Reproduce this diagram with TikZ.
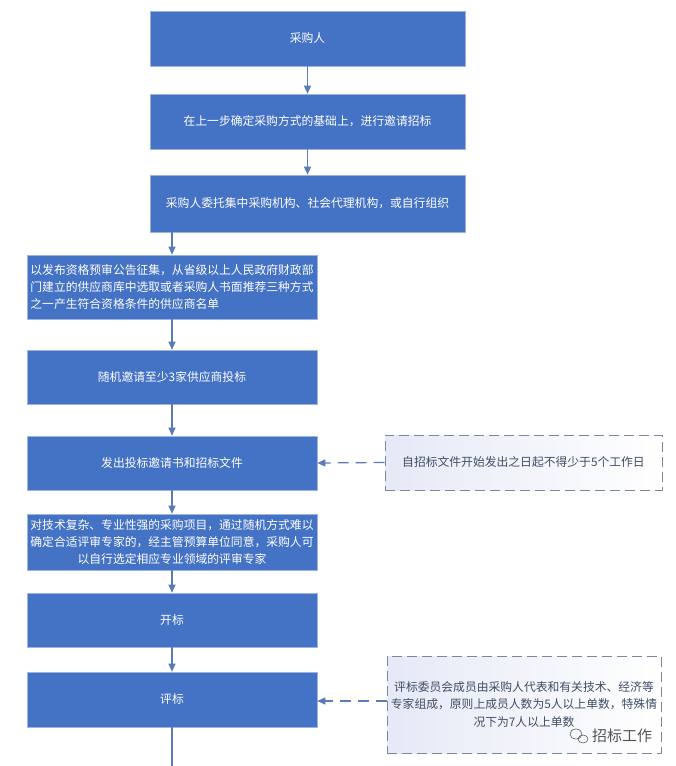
\documentclass[tikz,border=0pt]{standalone}
\usepackage{fontspec}
\newfontfamily\cjk{Noto Sans CJK SC}
\usetikzlibrary{arrows.meta}
\definecolor{boxblue}{HTML}{4472C4}
\definecolor{boxedge}{HTML}{9DB4E0}
\definecolor{arrowc}{HTML}{5B7BB8}
\definecolor{noteedge}{HTML}{7A889E}
\definecolor{notetext}{HTML}{3F4D66}
\definecolor{notefill}{HTML}{E6E9F6}
\definecolor{wmark}{HTML}{555555}
\begin{document}
\begin{tikzpicture}[x=1pt,y=-1pt,
  box/.style={draw=boxedge, fill=boxblue, text=white, line width=0.6pt, inner sep=0pt,
    font=\cjk\fontsize{11.8}{17.3}\selectfont},
  note/.style={draw=noteedge, dash pattern=on 10pt off 5pt, line width=1pt,
    left color=notefill, right color=white, text=notetext, inner sep=0pt, align=center,
    font=\cjk\fontsize{11.8}{17.5}\selectfont},
  flow/.style={draw=arrowc, line width=1.2pt, -{Triangle[length=8pt,width=7pt]}},
  dflow/.style={draw=arrowc, line width=1.2pt, dash pattern=on 11pt off 7pt, -{Triangle[length=8pt,width=7pt]}},
  plain/.style={draw=arrowc, line width=1.2pt}
]
\useasboundingbox (0,0) rectangle (675,766);
\fill[white] (0,0) rectangle (675,766);

\node[box, minimum width=315pt, minimum height=55pt] (b1) at (307.5,38.5) {采购人};
\node[box, minimum width=315pt, minimum height=55pt] (b2) at (307.5,121.5) {在上一步确定采购方式的基础上，进行邀请招标};
\node[box, minimum width=315pt, minimum height=57pt] (b3) at (307.5,203.5) {采购人委托集中采购机构、社会代理机构，或自行组织};
\node[box, minimum width=290pt, minimum height=64pt, align=left] (b4) at (172,287)
  {以发布资格预审公告征集，从省级以上人民政府财政部\\门建立的供应商库中选取或者采购人书面推荐三种方式\\之一产生符合资格条件的供应商名单};
\node[box, minimum width=290pt, minimum height=54pt] (b5) at (172,377) {随机邀请至少3家供应商投标};
\node[box, minimum width=290pt, minimum height=54pt] (b6) at (172,463) {发出投标邀请书和招标文件};
\node[box, minimum width=290pt, minimum height=56pt, align=center] (b7) at (172,542)
  {对技术复杂、专业性强的采购项目，通过随机方式难以\\确定合适评审专家的，经主管预算单位同意，采购人可\\以自行选定相应专业领域的评审专家};
\node[box, minimum width=290pt, minimum height=54pt] (b8) at (172,620) {开标};
\node[box, minimum width=290pt, minimum height=55pt] (b9) at (172,699.5) {评标};

\node[note, minimum width=277pt, minimum height=55pt] (d1) at (523.5,462.5) {自招标文件开始发出之日起不得少于5个工作日};
\node[note, minimum width=274pt, minimum height=97pt] (d2) at (524,704.5)
  {评标委员会成员由采购人代表和有关技术、经济等\\专家组成，原则上成员人数为5人以上单数，特殊情\\况下为7人以上单数};

\coordinate (end) at (172,766);

\draw[flow] (b1) -- (b2);
\draw[flow] (b2) -- (b3);
\draw[flow] (b3.south -| b4.north) -- (b4.north);
\draw[flow] (b4) -- (b5);
\draw[flow] (b5) -- (b6);
\draw[flow] (b6) -- (b7);
\draw[flow] (b7) -- (b8);
\draw[flow] (b8) -- (b9);
\draw[plain] (b9) -- (end);
\draw[dflow] (d1.west) -- (b6.east);
\draw[dflow] (d2.west |- 0,701) -- (b9.east |- 0,701);

% watermark
\node[text=wmark, font=\cjk\fontsize{15}{15}\selectfont, inner sep=0pt] (wm) at (622,736) {招标工作};
\draw[wmark, line width=0.6pt] (576,734) ellipse (6pt and 5pt);
\draw[wmark, line width=0.6pt] (583,739) ellipse (5pt and 4pt);
\end{tikzpicture}
\end{document}
